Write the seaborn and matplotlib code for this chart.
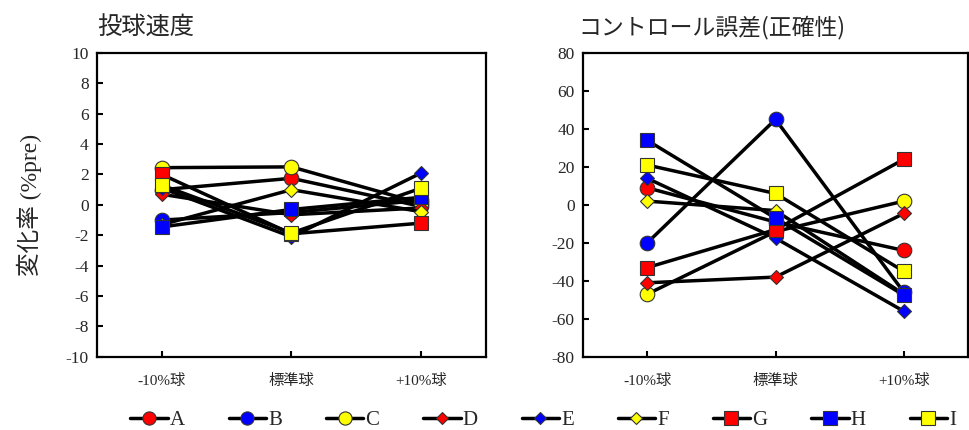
import pandas as pd
import seaborn as sns
import matplotlib.pyplot as plt
from matplotlib.lines import Line2D

conditions = ['-10%球', '標準球', '+10%球']
players = ['A', 'B', 'C', 'D', 'E', 'F', 'G', 'H', 'I']

# 投球速度 (%pre)
speed_A = [1.0, 1.75, -0.1]
speed_B = [-1.0, -0.5, 0.3]
speed_C = [2.45, 2.5, 0.1]
speed_D = [0.7, -0.65, -0.2]
speed_E = [1.1, -2.1, 2.1]
speed_F = [-1.3, 1.0, -0.45]
speed_G = [2.0, -1.9, -1.2]
speed_H = [-1.45, -0.3, 0.5]
speed_I = [1.3, -1.85, 1.1]

# コントロール誤差 (%pre)
ctrl_A = [9, -9, -24]
ctrl_B = [-20, 45, -46]
ctrl_C = [-47, -14, 2]
ctrl_D = [-41, -38, -4.5]
ctrl_E = [14, -17.5, -56]
ctrl_F = [2, -3, -47]
ctrl_G = [-33, -13, 24]
ctrl_H = [34, -7, -47.5]
ctrl_I = [21, 6, -35]

speed = [speed_A, speed_B, speed_C, speed_D, speed_E, speed_F, speed_G, speed_H, speed_I]
ctrl = [ctrl_A, ctrl_B, ctrl_C, ctrl_D, ctrl_E, ctrl_F, ctrl_G, ctrl_H, ctrl_I]

# marker style for each player
face_colors = ['#ff0000', '#0000ff', '#ffff00'] * 3
shapes = ['o'] * 3 + ['D'] * 3 + ['s'] * 3
sizes = [10.5] * 3 + [7.5] * 3 + [10.5] * 3

sns.set_style('white')
plt.rcParams['axes.unicode_minus'] = False
serif_cjk = ['Liberation Serif', 'Noto Sans CJK JP']
gothic = ['Noto Sans CJK JP', 'DejaVu Sans']

fig = plt.figure(figsize=(9.7, 4.3), dpi=100)
ax1 = fig.add_axes([0.100, 0.170, 0.401, 0.707])
ax2 = fig.add_axes([0.601, 0.170, 0.397, 0.707])


def draw_panel(ax, series, ylim, step):
    for i, name in enumerate(players):
        df = pd.DataFrame({'条件': conditions, '変化率': series[i]})
        sns.lineplot(data=df, x='条件', y='変化率', ax=ax, sort=False,
                     color='black', linewidth=2.5, marker=shapes[i],
                     markersize=sizes[i], markerfacecolor=face_colors[i],
                     markeredgecolor='#333333', markeredgewidth=0.8,
                     label=name, legend=False)
    ax.set_xlim(-0.5, 2.5)
    ax.set_ylim(ylim)
    ax.set_yticks(range(ylim[0], ylim[1] + 1, step))
    ax.set_xticks(range(len(conditions)))
    ax.set_xticklabels(conditions, family=serif_cjk, fontsize=11)
    for lab in ax.get_yticklabels():
        lab.set_family(serif_cjk)
        lab.set_fontsize(12.5)
    ax.set_xlabel('')
    ax.set_ylabel('')
    ax.tick_params(direction='in', length=4, width=1.5, color='black',
                   left=True, bottom=True, pad=6)
    ax.tick_params(axis='x', pad=12)
    for sp in ax.spines.values():
        sp.set_visible(True)
        sp.set_color('black')
        sp.set_linewidth(1.6)


draw_panel(ax1, speed, (-10, 10), 2)
draw_panel(ax2, ctrl, (-80, 80), 20)

fig.text(0.100, 0.935, '投球速度', family=gothic, fontsize=17.5, ha='left', va='center')
fig.text(0.596, 0.935, 'コントロール誤差(正確性)', family=gothic, fontsize=16.5,
         ha='left', va='center')
fig.text(0.030, 0.523, '変化率 (%pre)', family=['Liberation Serif', 'Noto Sans CJK JP'],
         fontsize=17, rotation=90, ha='center', va='center')

handles = [Line2D([0], [0], color='black', linewidth=2.5, marker=shapes[i],
                  markersize=sizes[i] - 1, markerfacecolor=face_colors[i],
                  markeredgecolor='#333333', markeredgewidth=0.8)
           for i in range(len(players))]
fig.legend(handles, players, loc='center', bbox_to_anchor=(0.560, 0.022), ncol=9,
           frameon=False, handlelength=1.8, handletextpad=0.1, columnspacing=2.1,
           prop={'family': 'Liberation Serif', 'size': 15})

fig.savefig('out.png', dpi=100)
